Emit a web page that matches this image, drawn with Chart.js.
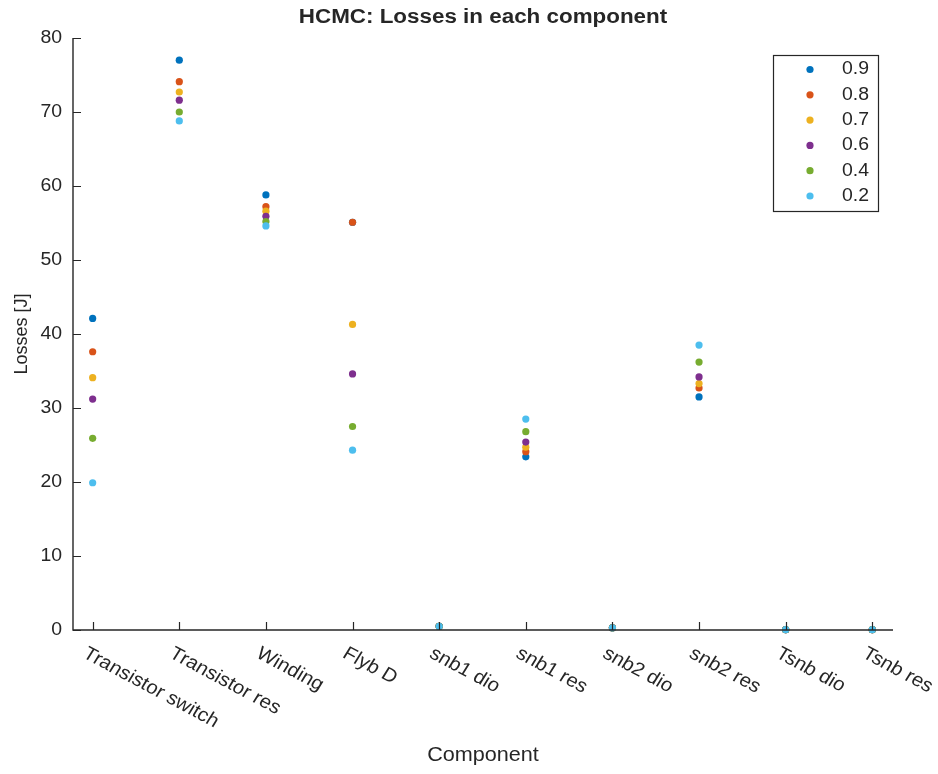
<!DOCTYPE html>
<html>
<head>
<meta charset="utf-8">
<script src="https://cdn.jsdelivr.net/npm/chart.js@4/dist/chart.umd.min.js"></script>
<style>
  html, body { margin: 0; padding: 0; background: #ffffff; }
  #wrap { width: 938px; height: 774px; }
</style>
</head>
<body>
<div id="wrap"><canvas id="chart" width="938" height="774"></canvas></div>
<script>
// Component categories along the x axis
const categories = ['Transistor switch', 'Transistor res', 'Winding', 'Flyb D', 'snb1 dio',
                    'snb1 res', 'snb2 dio', 'snb2 res', 'Tsnb dio', 'Tsnb res'];

// Series names (legend)
const seriesLabels = ['0.9', '0.8', '0.7', '0.6', '0.4', '0.2'];

// Losses [J] per component for each series
const loss09 = [42.1, 77.0, 58.8, 55.1, 0.5, 23.4, 0.3, 31.5, 0.05, 0.05];
const loss08 = [37.6, 74.1, 57.2, 55.1, 0.5, 24.1, 0.3, 32.7, 0.05, 0.05];
const loss07 = [34.1, 72.7, 56.6, 41.3, 0.5, 24.7, 0.3, 33.3, 0.05, 0.05];
const loss06 = [31.2, 71.6, 55.9, 34.6, 0.5, 25.4, 0.3, 34.2, 0.05, 0.05];
const loss04 = [25.9, 70.0, 55.2, 27.5, 0.5, 26.8, 0.3, 36.2, 0.05, 0.05];
const loss02 = [19.9, 68.8, 54.6, 24.3, 0.5, 28.5, 0.3, 38.5, 0.05, 0.05];

// Y axis ticks
const yTicks = [0, 10, 20, 30, 40, 50, 60, 70, 80];

const seriesValues = [loss09, loss08, loss07, loss06, loss04, loss02];
const seriesColors = ['#0072BD', '#D95319', '#EDB120', '#7E2F8E', '#77AC30', '#4DBEEE'];

const TEXT = '#262626';
const FONT = '"Liberation Sans", Arial, Helvetica, sans-serif';
const SX = 1.08; // horizontal text widening

function drawText(ctx, str, x, y, opts) {
  ctx.save();
  ctx.translate(x, y);
  if (opts.rotate) ctx.rotate(opts.rotate);
  ctx.scale(opts.sx || SX, 1);
  ctx.font = (opts.bold ? 'bold ' : '') + opts.size + 'px ' + FONT;
  ctx.fillStyle = TEXT;
  ctx.textAlign = opts.align || 'left';
  ctx.textBaseline = opts.baseline || 'middle';
  ctx.fillText(str, 0, 0);
  ctx.restore();
}

// Later series are painted over earlier ones (lower order = drawn on top)
const datasets = seriesLabels.map((name, s) => ({
  label: name,
  data: categories.map((c, i) => ({ x: i + 1, y: seriesValues[s][i] })),
  backgroundColor: seriesColors[s],
  borderWidth: 0,
  pointRadius: 3.6,
  pointHoverRadius: 3.6,
  order: seriesLabels.length - s,
  clip: false
}));

// Axes lines, inward ticks (left and bottom only), labels, title and legend
const axesPlugin = {
  id: 'axesLines',
  afterDatasetsDraw(chart) {
    const { ctx, chartArea: a, scales } = chart;
    ctx.save();
    ctx.strokeStyle = TEXT;
    ctx.lineWidth = 1.4;
    ctx.beginPath();
    ctx.moveTo(a.left, a.top);
    ctx.lineTo(a.left, a.bottom);
    ctx.lineTo(a.right, a.bottom);
    ctx.stroke();
    ctx.lineWidth = 1.2;
    ctx.beginPath();
    yTicks.forEach(v => {
      const y = Math.round(scales.y.getPixelForValue(v)) + 0.5;
      ctx.moveTo(a.left, y);
      ctx.lineTo(a.left + 8, y);
    });
    categories.forEach((c, i) => {
      const x = Math.round(scales.x.getPixelForValue(i + 1)) + 0.5;
      ctx.moveTo(x, a.bottom);
      ctx.lineTo(x, a.bottom - 8);
    });
    ctx.stroke();
    ctx.restore();
  },
  afterDraw(chart) {
    const { ctx, chartArea: a, scales } = chart;
    // y tick labels
    yTicks.forEach(v => {
      drawText(ctx, String(v), a.left - 11, scales.y.getPixelForValue(v), { size: 18, align: 'right' });
    });
    // rotated category labels
    categories.forEach((c, i) => {
      const x = scales.x.getPixelForValue(i + 1);
      ctx.save();
      ctx.translate(x - 3, a.bottom + 14);
      ctx.scale(SX, 1);
      ctx.rotate(30 * Math.PI / 180);
      ctx.font = '19px ' + FONT;
      ctx.fillStyle = TEXT;
      ctx.textAlign = 'left';
      ctx.textBaseline = 'top';
      ctx.fillText(c, 0, 0);
      ctx.restore();
    });
    const cx = (a.left + a.right) / 2;
    // title
    drawText(ctx, 'HCMC: Losses in each component', cx, 17, { size: 20, bold: true, align: 'center', sx: 1.12 });
    // axis titles
    drawText(ctx, 'Component', cx, 755, { size: 20, align: 'center' });
    ctx.save();
    ctx.translate(22, (a.top + a.bottom) / 2);
    ctx.rotate(-Math.PI / 2);
    ctx.font = '18px ' + FONT;
    ctx.fillStyle = TEXT;
    ctx.textAlign = 'center';
    ctx.textBaseline = 'middle';
    ctx.fillText('Losses [J]', 0, 0);
    ctx.restore();
    // legend box
    const lx = 773, ly = 55, lw = 105, lh = 156;
    ctx.save();
    ctx.fillStyle = '#ffffff';
    ctx.fillRect(lx, ly, lw, lh);
    ctx.strokeStyle = TEXT;
    ctx.lineWidth = 1.2;
    ctx.strokeRect(lx + 0.5, ly + 0.5, lw, lh);
    seriesLabels.forEach((name, s) => {
      const y = 69.5 + s * 25.3;
      ctx.beginPath();
      ctx.fillStyle = seriesColors[s];
      ctx.arc(810, y, 3.6, 0, Math.PI * 2);
      ctx.fill();
      drawText(ctx, name, 842, y, { size: 18 });
    });
    ctx.restore();
  }
};

new Chart(document.getElementById('chart'), {
  type: 'scatter',
  data: { datasets },
  options: {
    responsive: false,
    animation: false,
    devicePixelRatio: 1,
    layout: { padding: { top: 38, right: 45, left: 0, bottom: 0 } },
    plugins: { legend: { display: false }, title: { display: false }, tooltip: { enabled: false } },
    scales: {
      x: {
        type: 'linear', min: 0.773, max: 10.239,
        ticks: { display: false }, grid: { display: false, drawTicks: false }, border: { display: false },
        afterFit(s) { s.height = 144; }
      },
      y: {
        type: 'linear', min: 0, max: 80,
        ticks: { display: false }, grid: { display: false, drawTicks: false }, border: { display: false },
        afterFit(s) { s.width = 73; }
      }
    }
  },
  plugins: [axesPlugin]
});
</script>
</body>
</html>
